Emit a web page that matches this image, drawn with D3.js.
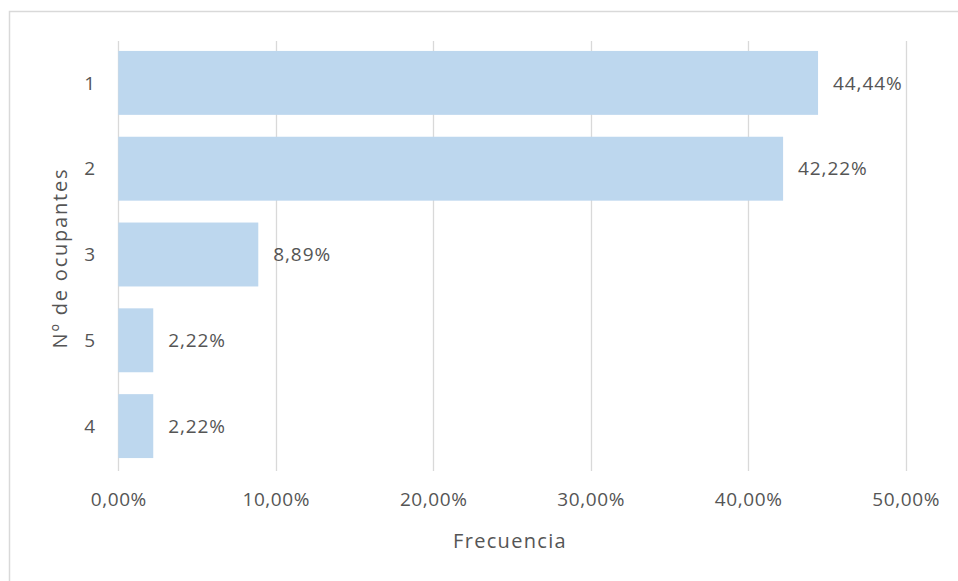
<!DOCTYPE html>
<html>
<head>
<meta charset="utf-8">
<script src="https://cdn.jsdelivr.net/npm/d3@7"></script>
<style>
  html, body { margin: 0; padding: 0; background: #ffffff; }
  svg { display: block; }
  text { font-family: "Open Sans", "Noto Sans", sans-serif; fill: #555555; }
</style>
</head>
<body>
<svg id="chart" width="958" height="581"></svg>
<script>
// Número de ocupantes por vivienda y su frecuencia (%)
const categories = ["1", "2", "3", "5", "4"];
const values = [44.44, 42.22, 8.89, 2.22, 2.22];
const tickValues = [0, 10, 20, 30, 40, 50];
const xTitle = "Frecuencia";
const yTitle = "Nº de ocupantes";

const fmt = v => d3.format(".2f")(v).replace(".", ",") + "%";

const svg = d3.select("#chart");

// chart frame
svg.append("rect")
  .attr("x", 9.5).attr("y", 11.5)
  .attr("width", 960).attr("height", 580)
  .attr("fill", "#ffffff")
  .attr("stroke", "#d9d9d9").attr("stroke-width", 1.5);

const x = d3.scaleLinear().domain([0, 50]).range([118.3, 905.6]);
const y = d3.scaleBand().domain(categories).range([40, 469]).paddingInner(0.255).paddingOuter(0.1275);

const plotTop = 41, plotBottom = 471;

// vertical gridlines
svg.append("g")
  .selectAll("line")
  .data(tickValues)
  .join("line")
  .attr("x1", d => Math.round(x(d)) + 0.5)
  .attr("x2", d => Math.round(x(d)) + 0.5)
  .attr("y1", plotTop).attr("y2", plotBottom)
  .attr("stroke", "#d9d9d9").attr("stroke-width", 1.3);

// bars
svg.append("g")
  .selectAll("rect")
  .data(values)
  .join("rect")
  .attr("x", x(0))
  .attr("y", (d, i) => y(categories[i]))
  .attr("width", d => x(d) - x(0))
  .attr("height", y.bandwidth())
  .attr("fill", "#bdd7ee");

// value labels
svg.append("g")
  .selectAll("text")
  .data(values)
  .join("text")
  .attr("x", d => x(d) + 15)
  .attr("y", (d, i) => y(categories[i]) + y.bandwidth() / 2)
  .attr("dy", "0.35em")
  .attr("font-size", 19)
  .attr("letter-spacing", 0.9)
  .text(d => fmt(d));

// x axis tick labels
const xAxis = d3.axisBottom(x)
  .tickValues(tickValues)
  .tickSize(0)
  .tickPadding(0)
  .tickFormat(fmt);
const gx = svg.append("g").attr("transform", `translate(0, ${plotBottom})`).call(xAxis);
gx.select(".domain").remove();
gx.selectAll("text")
  .attr("y", 28)
  .attr("dy", "0.35em")
  .attr("font-size", 19)
  .attr("letter-spacing", 0.6)
  .attr("font-family", null)
  .attr("fill", "#555555");

// y axis category labels
const yAxis = d3.axisLeft(y).tickSize(0).tickPadding(0);
const gy = svg.append("g").attr("transform", `translate(95, 0)`).call(yAxis);
gy.select(".domain").remove();
gy.selectAll("text")
  .attr("x", 0)
  .attr("dy", "0.35em")
  .attr("font-size", 19)
  .attr("font-family", null)
  .attr("fill", "#555555");

// axis titles
svg.append("text")
  .attr("x", 510).attr("y", 541)
  .attr("dy", "0.35em")
  .attr("text-anchor", "middle")
  .attr("font-size", 20)
  .attr("letter-spacing", 1.3)
  .text(xTitle);

svg.append("text")
  .attr("transform", "translate(60, 258) rotate(-90)")
  .attr("dy", "0.35em")
  .attr("text-anchor", "middle")
  .attr("font-size", 20)
  .attr("letter-spacing", 1.8)
  .text(yTitle);
</script>
</body>
</html>
